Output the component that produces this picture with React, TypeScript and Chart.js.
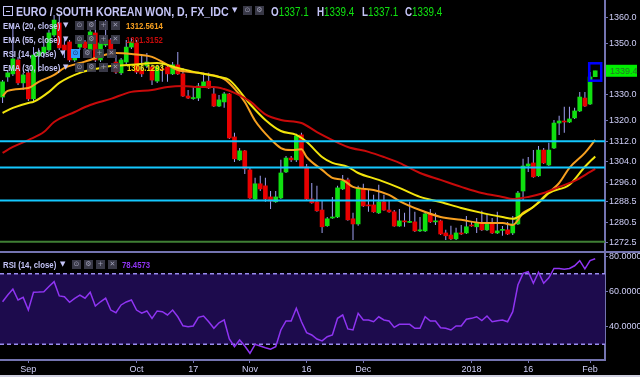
import React, { useEffect, useRef } from 'react';
import { Chart, registerables } from 'chart.js';

Chart.register(...registerables);

// ---- candles (EUR/KRW daily, 25 Aug 2017 .. 2 Feb 2018) ----
const opens = [
  1329.2, 1337.0, 1338.2, 1343.6, 1334.7, 1338.6, 1328.5, 1345.2, 1346.3, 1347.5,
  1353.3, 1358.0, 1349.4, 1350.6, 1343.6, 1348.6, 1350.6, 1347.5, 1354.1, 1343.6,
  1349.4, 1351.4, 1342.8, 1338.6, 1342.8, 1348.6, 1350.2, 1339.7, 1341.3, 1340.9,
  1335.4, 1340.1, 1340.9, 1338.2, 1341.7, 1338.2, 1329.6, 1328.6, 1328.8, 1333.1,
  1335.4, 1330.4, 1325.7, 1327.3, 1330.4, 1313.7, 1304.8, 1308.3, 1300.9, 1289.6,
  1295.5, 1294.7, 1290.4, 1288.5, 1290.0, 1300.1, 1305.5, 1304.8, 1314.5, 1302.1,
  1289.6, 1288.5, 1285.3, 1279.2, 1282.2, 1282.6, 1293.5, 1297.0, 1281.9, 1279.9,
  1293.5, 1287.3, 1287.3, 1284.2, 1288.5, 1285.3, 1284.6, 1279.1, 1281.1, 1280.5,
  1280.7, 1277.2, 1277.2, 1283.8, 1280.7, 1281.1, 1276.4, 1275.6, 1274.1, 1276.4,
  1276.4, 1279.5, 1278.8, 1280.3, 1277.6, 1279.9, 1276.4, 1277.4, 1277.6, 1276.4,
  1279.9, 1292.7, 1302.4, 1303.6, 1298.6, 1308.6, 1302.8, 1309.4, 1319.1, 1319.7,
  1319.5, 1321.1, 1323.8, 1328.8, 1326.5, 1337.1,
];
const highs = [
  1335.8, 1339.7, 1357.2, 1344.8, 1338.6, 1339.7, 1348.6, 1348.2, 1350.6, 1355.3,
  1361.1, 1361.1, 1352.5, 1351.4, 1347.5, 1352.1, 1351.4, 1355.3, 1359.1, 1351.4,
  1359.1, 1352.1, 1345.5, 1344.4, 1351.4, 1352.1, 1351.4, 1345.5, 1346.3, 1341.7,
  1341.7, 1342.8, 1341.3, 1342.8, 1346.7, 1340.5, 1331.9, 1333.1, 1334.7, 1338.6,
  1338.6, 1333.1, 1330.0, 1331.2, 1330.8, 1315.3, 1309.4, 1308.6, 1301.7, 1297.8,
  1298.6, 1297.8, 1292.7, 1292.7, 1304.8, 1306.3, 1306.3, 1314.9, 1315.3, 1303.2,
  1295.8, 1294.7, 1289.2, 1282.6, 1290.4, 1294.7, 1298.9, 1297.8, 1284.2, 1294.7,
  1295.5, 1293.1, 1291.2, 1295.1, 1291.2, 1289.2, 1285.3, 1285.7, 1284.2, 1288.5,
  1284.6, 1282.6, 1284.6, 1285.7, 1284.2, 1281.5, 1277.6, 1279.2, 1278.4, 1279.5,
  1283.0, 1280.7, 1282.2, 1285.0, 1283.8, 1282.2, 1284.6, 1279.1, 1280.7, 1283.0,
  1292.7, 1305.2, 1305.9, 1308.6, 1310.2, 1309.4, 1311.4, 1320.3, 1321.9, 1325.4,
  1325.4, 1325.0, 1331.2, 1331.2, 1338.9, 1339.4,
];
const lows = [
  1326.9, 1335.1, 1337.4, 1333.9, 1332.0, 1327.7, 1327.7, 1339.0, 1344.4, 1346.7,
  1352.5, 1347.5, 1344.4, 1342.8, 1342.8, 1347.5, 1347.5, 1346.7, 1342.8, 1342.8,
  1348.6, 1344.8, 1338.2, 1337.8, 1342.0, 1347.9, 1338.2, 1337.0, 1340.5, 1333.9,
  1334.7, 1335.1, 1335.1, 1337.8, 1337.8, 1329.2, 1328.4, 1328.1, 1327.7, 1332.7,
  1332.3, 1325.3, 1325.3, 1325.0, 1312.9, 1304.0, 1304.4, 1299.3, 1289.6, 1289.2,
  1292.7, 1288.5, 1285.7, 1288.1, 1289.6, 1299.7, 1304.0, 1304.0, 1301.7, 1289.2,
  1287.7, 1284.6, 1276.4, 1278.8, 1281.9, 1282.2, 1293.1, 1281.1, 1273.7, 1279.2,
  1286.5, 1284.6, 1284.2, 1283.8, 1285.0, 1284.2, 1278.8, 1278.8, 1278.8, 1280.3,
  1276.8, 1276.8, 1276.8, 1280.3, 1279.5, 1275.6, 1273.7, 1273.7, 1273.7, 1275.6,
  1276.0, 1278.8, 1276.4, 1277.2, 1277.2, 1276.0, 1276.0, 1275.3, 1275.6, 1275.6,
  1279.5, 1289.2, 1300.1, 1297.8, 1298.2, 1303.2, 1302.4, 1309.0, 1314.5, 1315.3,
  1319.1, 1320.7, 1323.4, 1325.3, 1326.1, 1337.1,
];
const closes = [
  1335.1, 1338.6, 1344.0, 1334.7, 1337.8, 1328.5, 1345.5, 1346.7, 1348.6, 1354.1,
  1359.1, 1348.3, 1347.5, 1343.6, 1346.7, 1351.4, 1348.3, 1354.5, 1343.6, 1350.2,
  1351.4, 1345.5, 1338.9, 1343.6, 1348.6, 1350.6, 1338.9, 1338.2, 1342.8, 1335.8,
  1340.9, 1339.7, 1338.2, 1341.7, 1338.2, 1329.6, 1328.8, 1328.8, 1333.5, 1335.1,
  1332.7, 1325.7, 1328.1, 1330.4, 1313.3, 1305.2, 1308.3, 1301.3, 1290.0, 1295.5,
  1293.5, 1289.6, 1288.8, 1290.4, 1299.7, 1305.5, 1304.8, 1314.1, 1302.1, 1289.6,
  1288.1, 1285.0, 1278.8, 1281.9, 1282.6, 1293.9, 1296.6, 1281.5, 1279.9, 1293.9,
  1286.9, 1286.9, 1284.6, 1288.5, 1285.3, 1284.6, 1279.1, 1281.1, 1280.7, 1280.7,
  1277.2, 1277.6, 1283.8, 1280.7, 1281.1, 1276.0, 1275.3, 1274.1, 1276.4, 1276.0,
  1278.8, 1279.1, 1280.3, 1277.6, 1279.9, 1276.4, 1277.2, 1277.6, 1276.0, 1279.9,
  1291.9, 1302.4, 1303.2, 1298.2, 1308.6, 1303.6, 1308.6, 1319.1, 1319.9, 1319.5,
  1320.7, 1323.8, 1329.2, 1325.7, 1337.0, 1339.4,
];

// ---- moving averages: [bar index, value] ----
const ema20 = [
  [0, 1329.6], [1, 1331.6], [5, 1332.7], [7, 1335.1], [10, 1337.8], [12, 1340.5], [15, 1342.4],
  [17, 1343.6], [19, 1345.1], [22, 1346.3], [25, 1345.9], [29, 1344.8], [34, 1339.7], [38, 1338.6],
  [43, 1336.2], [45, 1332.5], [47, 1327.3], [49, 1320.0], [52, 1312.9], [54, 1309.4], [56, 1308.6],
  [58, 1308.9], [59, 1305.9], [62, 1300.9], [64, 1297.8], [66, 1297.0], [68, 1294.3], [72, 1293.1],
  [75, 1291.2], [77, 1288.8], [81, 1285.3], [85, 1282.6], [89, 1281.5], [93, 1280.3], [97, 1280.3],
  [99, 1279.5], [101, 1284.2], [103, 1286.5], [105, 1290.4], [108, 1295.8], [110, 1301.7],
  [113, 1307.5], [115, 1312.56],
];
const ema30 = [
  [0, 1323.0], [2, 1325.0], [5, 1326.9], [6, 1327.3], [9, 1331.2], [11, 1334.7], [15, 1338.6],
  [19, 1340.5], [21, 1341.3], [25, 1341.7], [30, 1342.4], [34, 1340.5], [38, 1338.6], [42, 1337.0],
  [44, 1335.8], [48, 1326.5], [51, 1320.3], [54, 1316.0], [57, 1314.5], [59, 1311.8], [62, 1305.9],
  [64, 1303.6], [67, 1302.1], [69, 1299.7], [73, 1297.0], [77, 1293.9], [81, 1290.4], [85, 1288.4],
  [89, 1286.1], [93, 1284.2], [97, 1282.6], [99, 1281.9], [101, 1283.8], [104, 1288.1],
  [106, 1291.9], [110, 1295.1], [113, 1302.1], [115, 1306.13],
];
const ema55 = [
  [0, 1307.5], [2, 1309.8], [5, 1312.5], [8, 1315.6], [10, 1319.5], [14, 1323.4], [17, 1326.1],
  [21, 1328.5], [25, 1331.2], [29, 1331.9], [32, 1333.1], [35, 1333.5], [38, 1333.1], [41, 1333.1],
  [43, 1332.3], [45, 1330.8], [48, 1327.5], [51, 1322.5], [54, 1320.3], [58, 1319.1], [61, 1315.6],
  [64, 1312.5], [67, 1309.8], [71, 1307.9], [74, 1305.9], [77, 1303.6], [81, 1299.7], [85, 1297.0],
  [89, 1294.3], [93, 1291.9], [97, 1290.4], [99, 1289.6], [102, 1290.4], [105, 1291.9],
  [108, 1294.3], [111, 1296.6], [114, 1300.1], [115, 1301.32],
];

// ---- RSI (14) per bar ----
const rsi14 = [
  54.1, 57.9, 61.3, 55.1, 56.6, 49.4, 59.5, 59.6, 59.8, 62.7,
  65.5, 57.4, 57.0, 53.8, 56.0, 57.9, 56.1, 59.5, 51.7, 54.1,
  56.1, 49.4, 47.9, 52.3, 54.0, 55.1, 49.4, 47.6, 48.9, 44.7,
  48.9, 48.5, 46.6, 49.4, 45.6, 40.5, 40.0, 40.4, 45.3, 46.0,
  42.8, 39.1, 42.2, 43.8, 33.0, 28.6, 32.4, 29.0, 24.9, 30.0,
  29.0, 28.0, 27.2, 28.6, 38.1, 43.2, 43.2, 50.4, 42.8, 36.6,
  35.3, 33.0, 31.9, 34.3, 35.3, 44.7, 46.6, 38.7, 38.1, 47.6,
  43.8, 43.8, 42.8, 45.6, 43.8, 43.2, 39.6, 41.3, 41.3, 41.3,
  39.1, 39.1, 45.6, 43.2, 43.2, 39.4, 39.1, 38.1, 40.4, 40.4,
  44.2, 44.7, 45.6, 43.4, 46.0, 42.8, 43.4, 43.8, 42.8, 48.5,
  63.6, 70.2, 71.1, 64.6, 70.8, 64.6, 67.7, 73.0, 73.0, 72.5,
  73.0, 74.5, 77.4, 72.7, 77.4, 78.46,
];

// ---- axes / levels ----
const xTickIndex = [5, 26, 37, 48, 59, 70, 91, 102, 114];
const xTickLabels = ['Sep', 'Oct', '17', 'Nov', '16', 'Dec', '2018', '16', 'Feb'];
const priceTicks = [1360, 1350, 1330, 1320, 1312, 1304, 1296, 1288.5, 1280.5, 1272.5];
const rsiTicks = [80, 60, 40];
const cyanLevels = [1312.0, 1301.8, 1289.0];
const greenLevels = [1273.0];
const rsiBands = [70, 30];

const FONT = '"Liberation Sans", Arial, Helvetica, sans-serif';
const LAV = '#c4c4f6';
const AXIS = '#7474b0';
const TICK = '#cfcff8';
const UP = '#10e010';
const DOWN = '#e80000';
const WICK = '#a0a0f2';
const ORANGE = '#f7a020';
const YELLOW = '#f2e40c';
const DARKRED = '#c80a0a';
const PURPLE = '#8f34f2';

const panesPlugin = {
  id: 'panes',
  beforeDraw(chart: any) {
    const { ctx, width, height } = chart;
    ctx.save();
    ctx.fillStyle = '#000';
    ctx.fillRect(0, 0, width, height);
    ctx.restore();
  },
  beforeDatasetsDraw(chart: any) {
    const { ctx, chartArea } = chart;
    const r = chart.scales.rsi;
    const y1 = r.getPixelForValue(rsiBands[0]);
    const y2 = r.getPixelForValue(rsiBands[1]);
    ctx.save();
    ctx.fillStyle = '#1d0b4d';
    ctx.fillRect(chartArea.left, y1, chartArea.right - chartArea.left, y2 - y1);
    ctx.strokeStyle = '#9a8cf0';
    ctx.lineWidth = 1.5;
    ctx.setLineDash([4, 3]);
    for (const v of rsiBands) {
      const y = r.getPixelForValue(v);
      ctx.beginPath();
      ctx.moveTo(chartArea.left, y);
      ctx.lineTo(chartArea.right, y);
      ctx.stroke();
    }
    ctx.restore();
  },
  afterDatasetsDraw(chart: any) {
    const { ctx, chartArea } = chart;
    const p = chart.scales.y;
    const xs = chart.scales.x;
    ctx.save();
    ctx.lineWidth = 2;
    ctx.strokeStyle = '#14c8ff';
    for (const v of cyanLevels) {
      const y = p.getPixelForValue(v);
      ctx.beginPath();
      ctx.moveTo(chartArea.left, y);
      ctx.lineTo(chartArea.right, y);
      ctx.stroke();
    }
    ctx.strokeStyle = '#3f7f34';
    for (const v of greenLevels) {
      const y = p.getPixelForValue(v);
      ctx.beginPath();
      ctx.moveTo(chartArea.left, y);
      ctx.lineTo(chartArea.right, y);
      ctx.stroke();
    }
    // highlight box around the last candle
    const li = closes.length - 1;
    const cx = xs.getPixelForValue(li);
    const top = p.getPixelForValue(highs[li]) - 7.5;
    const bot = p.getPixelForValue(lows[li]) + 4;
    ctx.strokeStyle = '#0000ff';
    ctx.lineWidth = 2.5;
    ctx.strokeRect(cx - 6, top, 12, bot - top);
    ctx.restore();
  },
  afterDraw(chart: any) {
    const { ctx, width, height, chartArea } = chart;
    const r = chart.scales.rsi;
    const p = chart.scales.y;
    ctx.save();
    ctx.strokeStyle = AXIS;
    ctx.lineWidth = 2;
    ctx.beginPath();
    ctx.moveTo(0, r.top);
    ctx.lineTo(width, r.top);
    ctx.stroke();
    // last price label
    const last = closes[closes.length - 1];
    const y = p.getPixelForValue(last);
    ctx.fillStyle = '#00ee00';
    ctx.fillRect(chartArea.right + 1, y - 6, width - chartArea.right - 4, 12);
    ctx.fillStyle = '#2a6e2a';
    ctx.font = `9px ${FONT}`;
    ctx.textBaseline = 'middle';
    ctx.fillText(last.toFixed(1), chartArea.right + 5, y + 0.5);
    // bottom frame strip
    ctx.fillStyle = '#cfcfe0';
    ctx.fillRect(0, height - 2, width, 2);
    ctx.restore();
  },
};

const T: React.CSSProperties = {
  position: 'absolute',
  whiteSpace: 'nowrap',
  fontFamily: FONT,
  transformOrigin: 'left top',
  transform: 'scaleX(0.82)',
};

function Icon({ x, y, g, active }: { x: number; y: number; g: string; active?: boolean }) {
  return (
    <div
      style={{
        position: 'absolute', left: x, top: y, width: 9, height: 9,
        background: active ? '#2f9bff' : 'rgba(62,62,78,0.9)',
        color: active ? '#17306a' : '#9c9cb4',
        fontSize: 7, lineHeight: '9px', textAlign: 'center',
        fontFamily: '"DejaVu Sans", sans-serif', overflow: 'hidden',
      }}
    >
      {g}
    </div>
  );
}

function LegendRow({ y, name, value, color, vx, ix, active, arrowX }: any) {
  const glyphs = ['⊙', '⚙', '+', '✕'];
  return (
    <>
      <div style={{ ...T, left: 3, top: y, fontSize: 9.5, lineHeight: '11px', fontWeight: 'bold', color: LAV }}>{name}</div>
      <div style={{ position: 'absolute', left: arrowX, top: y + 1, fontSize: 7, color: LAV, fontFamily: '"DejaVu Sans"' }}>▼</div>
      {glyphs.map((g, k) => (
        <Icon key={k} x={ix + k * 12} y={y + 1} g={g} active={active && k === 0} />
      ))}
      {value ? (
        <div style={{ ...T, left: vx, top: y, fontSize: 9.5, lineHeight: '11px', fontWeight: 'bold', color }}>{value}</div>
      ) : null}
    </>
  );
}

function Overlay() {
  const ohlc = [
    { k: 'O', v: '1337.1', x: 271 },
    { k: 'H', v: '1339.4', x: 317 },
    { k: 'L', v: '1337.1', x: 362 },
    { k: 'C', v: '1339.4', x: 405 },
  ];
  return (
    <div style={{ position: 'absolute', left: 0, top: 0, width: 640, height: 377, pointerEvents: 'none' }}>
      <div style={{ position: 'absolute', left: 3, top: 6, width: 8, height: 8, border: `1px solid ${LAV}` }}>
        <div style={{ position: 'absolute', left: 2, top: 3.5, width: 4, height: 1, background: LAV }} />
      </div>
      <div style={{ ...T, left: 16, top: 4.5, fontSize: 13, lineHeight: '14px', fontWeight: 'bold', color: LAV }}>
        EURO / SOUTH KOREAN WON, D, FX_IDC
      </div>
      <div style={{ position: 'absolute', left: 232, top: 6, fontSize: 7, color: LAV, fontFamily: '"DejaVu Sans"' }}>▼</div>
      <Icon x={243} y={6} g="⊙" />
      <Icon x={255} y={6} g="⚙" />
      {ohlc.map((o) => (
        <div key={o.k} style={{ ...T, left: o.x, top: 5, fontSize: 12, lineHeight: '14px' }}>
          <span style={{ color: LAV, fontWeight: 'bold' }}>{o.k}</span>
          <span style={{ color: '#10e010' }}>{o.v}</span>
        </div>
      ))}
      <LegendRow y={20} name="EMA (20, close)" value="1312.5614" color={ORANGE} vx={126} ix={75} arrowX={63} />
      <LegendRow y={34} name="EMA (55, close)" value="1301.3152" color={DARKRED} vx={126} ix={75} arrowX={63} />
      <LegendRow y={48} name="RSI (14, close)" value="" color={PURPLE} vx={126} ix={71} active arrowX={60} />
      <LegendRow y={61.5} name="EMA (30, close)" value="1306.1293" color={YELLOW} vx={127} ix={75} arrowX={63} />
      <LegendRow y={258.5} name="RSI (14, close)" value="78.4573" color={PURPLE} vx={122} ix={72} arrowX={60} />
    </div>
  );
}

export default function App() {
  const ref = useRef<HTMLCanvasElement>(null);

  useEffect(() => {
    const canvas = ref.current;
    if (!canvas) return;
    Chart.defaults.font.family = FONT;

    const bodyData = opens.map((o, i) => ({ x: i, y: [o, closes[i]] }));
    const wickData = highs.map((h, i) => ({ x: i, y: [lows[i], h] }));
    const bodyColors = opens.map((o, i) => (closes[i] >= o ? UP : DOWN));
    const line = (pts: number[][], color: string) => ({
      type: 'line',
      data: pts.map(([x, y]) => ({ x, y })),
      borderColor: color,
      borderWidth: 2,
      pointRadius: 0,
      cubicInterpolationMode: 'monotone',
      yAxisID: 'y',
      order: 0,
    });

    const chart = new Chart(canvas, {
      type: 'bar',
      data: {
        datasets: [
          line(ema55, DARKRED),
          line(ema30, YELLOW),
          line(ema20, ORANGE),
          {
            type: 'line',
            data: rsi14.map((v, i) => ({ x: i, y: v })),
            borderColor: PURPLE,
            borderWidth: 1.5,
            pointRadius: 0,
            yAxisID: 'rsi',
            order: 0,
          },
          {
            type: 'bar',
            data: bodyData,
            backgroundColor: bodyColors,
            barThickness: 4,
            maxBarThickness: 4,
            grouped: false,
            minBarLength: 1,
            borderWidth: 0,
            yAxisID: 'y',
            order: 1,
          },
          {
            type: 'bar',
            data: wickData,
            backgroundColor: WICK,
            barThickness: 1,
            maxBarThickness: 1,
            grouped: false,
            borderWidth: 0,
            inflateAmount: 0,
            yAxisID: 'y',
            order: 2,
          },
        ] as any,
      },
      options: {
        responsive: false,
        animation: false,
        events: [],
        devicePixelRatio: 1,
        layout: { padding: 0 },
        plugins: { legend: { display: false }, tooltip: { enabled: false } },
        scales: {
          x: {
            type: 'linear',
            min: -0.5,
            max: 116.9,
            offset: false,
            grid: { display: true, offset: false, drawOnChartArea: false, drawTicks: true, tickLength: 3, color: AXIS },
            border: { display: true, color: AXIS, width: 2 },
            ticks: {
              color: TICK,
              font: { size: 9, family: FONT },
              padding: 1,
              autoSkip: false,
              maxRotation: 0,
              callback: (v: any) => {
                const k = xTickIndex.indexOf(Number(v));
                return k >= 0 ? xTickLabels[k] : '';
              },
            },
            afterBuildTicks: (s: any) => {
              s.ticks = xTickIndex.map((v) => ({ value: v }));
            },
            afterFit: (s: any) => {
              s.height = 17;
              s.paddingLeft = 0;
              s.paddingRight = 0;
            },
          },
          y: {
            type: 'linear',
            position: 'right',
            stack: 'panes',
            stackWeight: 252,
            min: 1269.0,
            max: 1366.9,
            beginAtZero: false,
            grid: { display: true, drawOnChartArea: false, tickLength: 3, color: AXIS },
            border: { display: true, color: AXIS, width: 2 },
            ticks: {
              color: TICK,
              font: { size: 9, family: FONT },
              padding: 1,
              callback: (v: any) => Number(v).toFixed(1),
            },
            afterBuildTicks: (s: any) => {
              s.ticks = priceTicks.map((v) => ({ value: v }));
            },
            afterFit: (s: any) => {
              s.width = 35;
              s.paddingTop = 0;
              s.paddingBottom = 0;
            },
          },
          rsi: {
            type: 'linear',
            position: 'right',
            stack: 'panes',
            stackWeight: 108,
            min: 21.1,
            max: 82.3,
            beginAtZero: false,
            grid: { display: true, drawOnChartArea: false, tickLength: 3, color: AXIS },
            border: { display: true, color: AXIS, width: 2 },
            ticks: {
              color: TICK,
              font: { size: 9, family: FONT },
              padding: 1,
              callback: (v: any) => Number(v).toFixed(4),
            },
            afterBuildTicks: (s: any) => {
              s.ticks = rsiTicks.map((v) => ({ value: v }));
            },
            afterFit: (s: any) => {
              s.width = 35;
              s.paddingTop = 0;
              s.paddingBottom = 0;
            },
          },
        } as any,
      },
      plugins: [panesPlugin],
    } as any);

    return () => chart.destroy();
  }, []);

  return (
    <div style={{ position: 'fixed', left: 0, top: 0, width: 640, height: 377, background: '#000', overflow: 'hidden' }}>
      <canvas ref={ref} width={640} height={377} style={{ position: 'absolute', left: 0, top: 0, width: 640, height: 377 }} />
      <Overlay />
    </div>
  );
}
